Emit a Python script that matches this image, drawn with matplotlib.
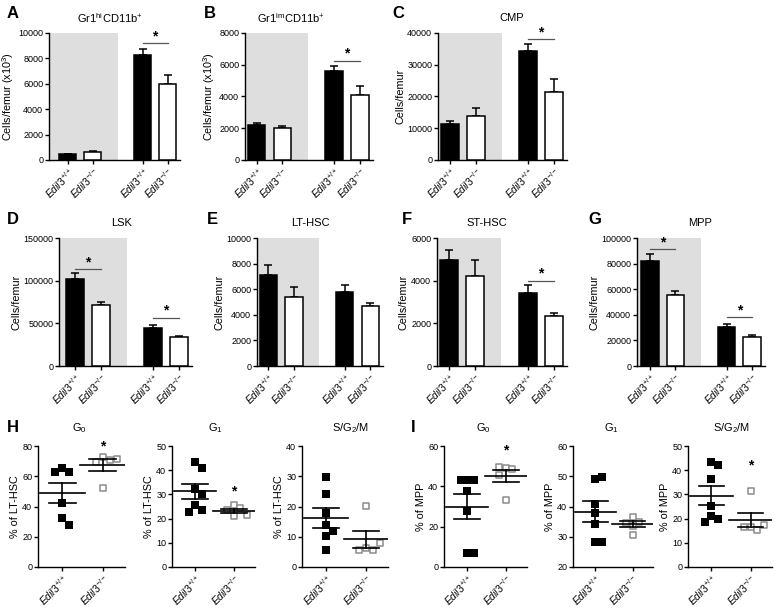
import numpy as np
import matplotlib.pyplot as plt

plt.rcParams['font.family'] = ['Liberation Sans', 'DejaVu Sans']
plt.rcParams['mathtext.fontset'] = 'custom'
plt.rcParams['mathtext.rm'] = 'Liberation Sans'
plt.rcParams['mathtext.it'] = 'Liberation Sans:italic'
plt.rcParams['mathtext.bf'] = 'Liberation Sans:bold'

W, H = 781, 608

# ---- data ----
genotypes = [r'$\mathit{Edil3}^{+/+}$', r'$\mathit{Edil3}^{-/-}$']
bar_labels = genotypes * 2

# bar panels A-G: means and upper SEM, order WT, KO, WT, KO
bar_titles = [r'Gr1$^{\mathrm{hi}}$CD11b$^{+}$', r'Gr1$^{\mathrm{im}}$CD11b$^{+}$', 'CMP',
              'LSK', 'LT-HSC', 'ST-HSC', 'MPP']
gr1hi_mean = [450, 600, 8300, 6000]
gr1hi_sem = [60, 100, 450, 700]
gr1im_mean = [2200, 2000, 5600, 4100]
gr1im_sem = [150, 150, 350, 550]
cmp_mean = [11200, 14000, 34200, 21500]
cmp_sem = [1100, 2400, 2300, 3900]
lsk_mean = [102000, 71000, 45000, 34500]
lsk_sem = [7000, 4500, 2500, 1000]
lthsc_mean = [7100, 5400, 5800, 4700]
lthsc_sem = [800, 750, 500, 250]
sthsc_mean = [4950, 4240, 3440, 2340]
sthsc_sem = [470, 740, 380, 130]
mpp_mean = [81700, 55500, 30600, 22800]
mpp_sem = [5700, 3400, 2600, 1500]

bar_means = [gr1hi_mean, gr1im_mean, cmp_mean, lsk_mean, lthsc_mean, sthsc_mean, mpp_mean]
bar_sems = [gr1hi_sem, gr1im_sem, cmp_sem, lsk_sem, lthsc_sem, sthsc_sem, mpp_sem]
bar_ymax = [10000, 8000, 40000, 150000, 10000, 6000, 100000]
bar_ystep = [2000, 2000, 10000, 50000, 2000, 2000, 20000]
bar_ylabels = [r'Cells/femur (x10$^3$)', r'Cells/femur (x10$^3$)'] + ['Cells/femur'] * 5
# significance: (bar i, bar j, height)
bar_sig = [[(2, 3, 9200)], [(2, 3, 6250)], [(2, 3, 38100)],
           [(0, 1, 113500), (2, 3, 56500)], [], [(2, 3, 4000)],
           [(0, 1, 91400), (2, 3, 38000)]]

# scatter panels H, I: cell cycle (%)
sc_titles = [r'G$_0$', r'G$_1$', r'S/G$_2$/M'] * 2
lthsc_g0_wt = [65.3, 62.6, 62.6, 42.6, 32.3, 27.7]
lthsc_g0_ko = [72.5, 70.8, 69.7, 71.6, 52.1]
lthsc_g1_wt = [43.2, 41.1, 32.2, 30.1, 25.7, 23.4, 22.9]
lthsc_g1_ko = [25.8, 24.2, 23.6, 21.0, 21.3]
lthsc_s_wt = [29.7, 24.2, 17.9, 13.9, 11.9, 10.1, 5.7]
lthsc_s_ko = [20.1, 6.4, 5.6, 5.6, 7.8]
mpp_g0_wt = [43.1, 43.1, 43.1, 37.8, 27.8, 7.1, 7.1]
mpp_g0_ko = [48.9, 48.4, 49.7, 45.6, 33.2]
mpp_g1_wt = [49.0, 49.9, 40.8, 37.7, 34.2, 28.4, 28.4]
mpp_g1_ko = [36.6, 35.0, 34.6, 33.5, 30.6]
mpp_s_wt = [43.3, 42.1, 36.4, 25.3, 21.2, 19.8, 18.7]
mpp_s_ko = [31.4, 16.4, 15.3, 16.4, 17.4]

sc_wt = [lthsc_g0_wt, lthsc_g1_wt, lthsc_s_wt, mpp_g0_wt, mpp_g1_wt, mpp_s_wt]
sc_ko = [lthsc_g0_ko, lthsc_g1_ko, lthsc_s_ko, mpp_g0_ko, mpp_g1_ko, mpp_s_ko]
sc_ylim = [(0, 80), (0, 50), (0, 40), (0, 60), (20, 60), (0, 50)]
sc_ystep = [20, 10, 10, 20, 10, 10]
sc_ylabels = ['% of LT-HSC'] * 3 + ['% of MPP'] * 3
sc_star = [79.5, 31.3, None, 58, None, 42]

# ---- layout (pixels: left, top, right, bottom) ----
bar_boxes = [(49, 33, 180, 160), (245, 33, 373, 160), (438, 33, 567, 160),
             (59, 238, 192, 366), (257, 238, 383, 366), (437, 238, 567, 366),
             (637, 238, 765, 366)]
bar_title_x = [110, 291, 512, 122, 310, 487, 700]
bar_xleft = [-0.75, -0.45, -0.45, -0.6, -0.45, -0.45, -0.5]
sc_boxes = [(38, 446, 125, 567), (172, 446, 255, 567), (302, 446, 388, 567),
            (444, 446, 527, 567), (573, 446, 653, 567), (688, 446, 772, 567)]
sc_title_x = [79, 215, 351, 483, 611, 732]
letters = [('A', 7, 14), ('B', 204, 14), ('C', 392, 14), ('D', 7, 219), ('E', 207, 219),
           ('F', 402, 219), ('G', 588, 219), ('H', 7, 427), ('I', 411, 427)]

fig = plt.figure(figsize=(W / 100, H / 100), dpi=100)


def add_ax(box):
    l, t, r, b = box
    return fig.add_axes([l / W, 1 - b / H, (r - l) / W, (b - t) / H])


def style(ax):
    for s in ['top', 'right']:
        ax.spines[s].set_visible(False)
    for s in ['left', 'bottom']:
        ax.spines[s].set_linewidth(1.0)
    ax.tick_params(direction='out', length=3, width=1.0, labelsize=6.5, pad=1.2)
    ax.tick_params(axis='x', labelsize=7.5, pad=1)


def set_xlabels(ax, pos, labels):
    ax.set_xticks(pos)
    ax.set_xticklabels(labels, rotation=45, ha='right', rotation_mode='anchor')


def swarm(values, yspan, step=0.17, frac=0.058):
    placed, offs = [], []
    for v in values:
        k = 0
        found = None
        while found is None:
            cands = [0.0] if k == 0 else [k * step, -k * step]
            for c in cands:
                if all(abs(c - px) > step * 0.9 or abs(v - py) >= frac * yspan
                       for px, py in placed):
                    found = c
                    break
            k += 1
        placed.append((found, v))
        offs.append(found)
    return np.array(offs)


xpos = np.array([0, 1, 3, 4])
for i in range(7):
    ax = add_ax(bar_boxes[i])
    style(ax)
    ax.axvspan(bar_xleft[i], 2.0, color='#dedede', lw=0, zorder=0)
    ax.bar(xpos, bar_means[i], width=0.68, color=['black', 'white'] * 2,
           edgecolor='black', linewidth=1.1, zorder=3)
    ax.errorbar(xpos, bar_means[i], yerr=[np.zeros(4), bar_sems[i]], fmt='none',
                ecolor='black', elinewidth=1.1, capsize=3, capthick=1.1, zorder=2)
    for a, b, h in bar_sig[i]:
        ax.plot([xpos[a], xpos[b]], [h, h], color='#555555', lw=0.9, zorder=4)
        ax.text((xpos[a] + xpos[b]) / 2, h, '*', ha='center', va='bottom',
                fontsize=10, fontweight='bold')
    ax.set_xlim(bar_xleft[i], 4.5)
    ax.set_ylim(0, bar_ymax[i])
    ax.set_yticks(np.arange(0, bar_ymax[i] + 1, bar_ystep[i]))
    set_xlabels(ax, xpos, bar_labels)
    ax.set_ylabel(bar_ylabels[i], fontsize=7.8, labelpad=1.5)
    fig.text(bar_title_x[i] / W, 1 - (bar_boxes[i][1] - 15) / H, bar_titles[i],
             ha='center', va='center', fontsize=8)

for i in range(6):
    ax = add_ax(sc_boxes[i])
    style(ax)
    lo, hi = sc_ylim[i]
    for g, (vals, kw) in enumerate([
            (sc_wt[i], dict(marker='s', s=26, color='black', linewidths=0)),
            (sc_ko[i], dict(marker='s', s=20, facecolors='white', edgecolors='#8c8c8c',
                            linewidths=1.1))]):
        vals = np.array(vals)
        ax.scatter(g + swarm(vals, hi - lo), vals, zorder=3, clip_on=False, **kw)
        m = vals.mean()
        se = vals.std(ddof=1) / np.sqrt(len(vals))
        ax.plot([g - 0.55, g + 0.55], [m, m], color='black', lw=1.2, zorder=4)
        ax.plot([g - 0.33, g + 0.33], [m + se, m + se], color='black', lw=1.2, zorder=4)
        ax.plot([g - 0.33, g + 0.33], [m - se, m - se], color='black', lw=1.2, zorder=4)
        ax.plot([g, g], [m - se, m + se], color='black', lw=1.2, zorder=4)
    if sc_star[i] is not None:
        ax.text(1, sc_star[i], '*', ha='center', va='center', fontsize=10,
                fontweight='bold', clip_on=False)
    ax.set_xlim(-0.6, 1.55)
    ax.set_ylim(lo, hi)
    ax.set_yticks(np.arange(lo, hi + 1, sc_ystep[i]))
    set_xlabels(ax, [0, 1], genotypes)
    ax.set_ylabel(sc_ylabels[i], fontsize=7.8, labelpad=1.5)
    fig.text(sc_title_x[i] / W, 1 - 428 / H, sc_titles[i], ha='center', va='center',
             fontsize=8)

for letter, x, y in letters:
    fig.text(x / W, 1 - y / H, letter, ha='left', va='center', fontsize=12,
             fontweight='heavy')

fig.savefig('out.png', dpi=100)
